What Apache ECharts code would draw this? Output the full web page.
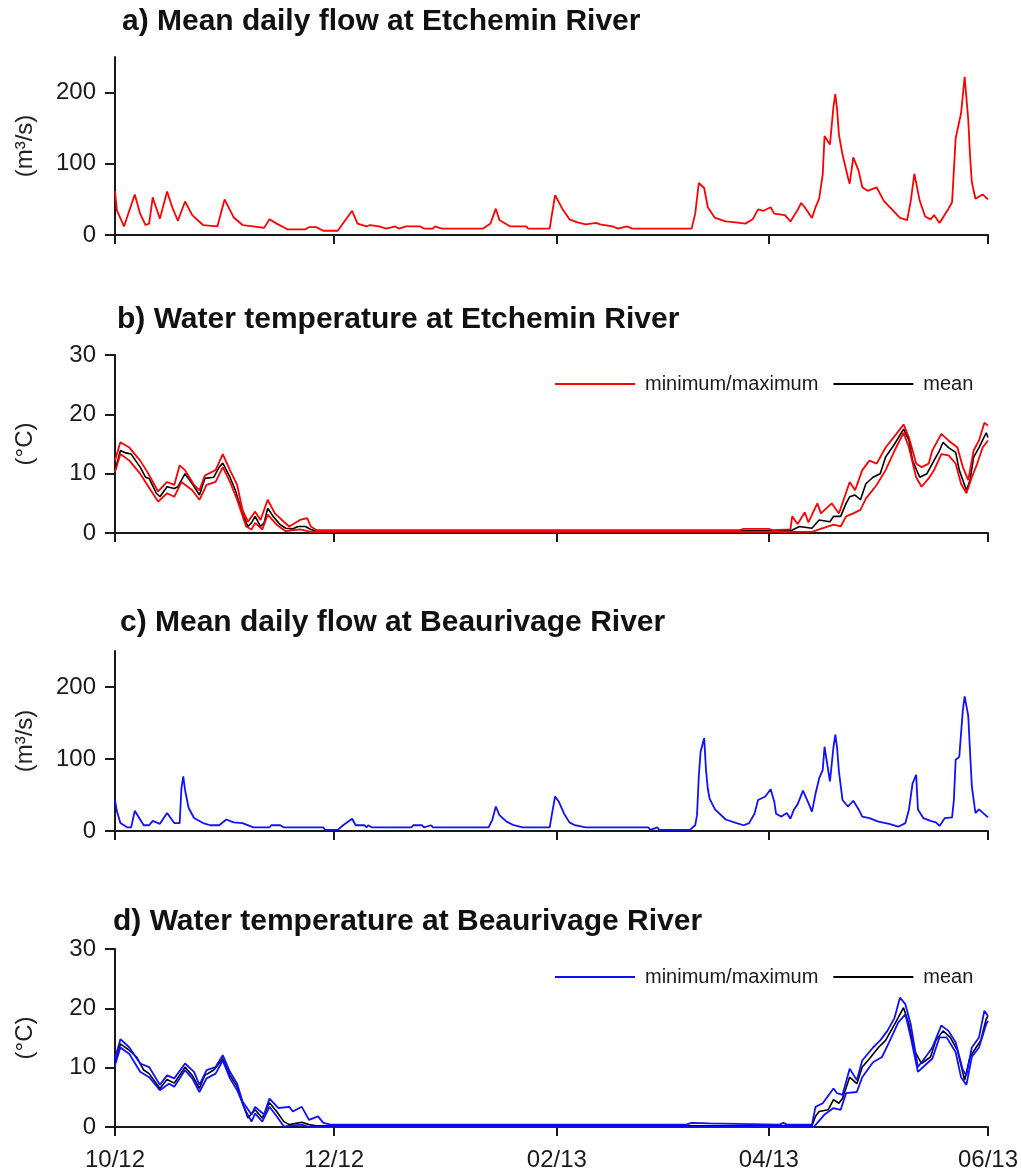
<!DOCTYPE html>
<html>
<head>
<meta charset="utf-8">
<script src="https://cdn.jsdelivr.net/npm/echarts@6/dist/echarts.min.js"></script>
<style>
  html, body { margin: 0; padding: 0; background: #fff; }
  #chart { width: 1021px; height: 1172px; }
</style>
</head>
<body>
<div id="chart"></div>
<script>
// Days are counted from 1 October 2012.
const tickDays = [0, 61, 123, 182, 243];
const tickLabels = ['10/12', '12/12', '02/13', '04/13', '06/13'];
const flowTicks = [0, 100, 200];
const tempTicks = [0, 10, 20, 30];

const panelTitles = [
  'a) Mean daily flow at Etchemin River',
  'b) Water temperature at Etchemin River',
  'c) Mean daily flow at Beaurivage River',
  'd) Water temperature at Beaurivage River'
];
const legendNames = ['minimum/maximum', 'mean'];

// Mean daily flow, Etchemin River (m3/s)
const etcheminFlow = [[0,62],[0.5,35],[2.5,12],[3,10],[5.5,57],[7,30],[8.5,14],[9.5,16],[10.5,53],[11,45],[12.5,23],[14.5,61],[16,38],[17.5,20],[19.5,47],[21.5,28],[24.5,14],[28.5,12],[29,12],[30.5,50],[33,25],[35.5,14],[38.5,12],[41.5,10],[43,22],[45,16],[48,8],[53,8],[54,11],[56,11],[58,6],[62,6],[66,34],[67.5,16],[70,12],[71,14],[73.5,12],[75.5,9],[78,12],[79,9],[81,12],[85,12],[86,9],[88.5,9],[89,12],[91,9],[102.5,9],[104.5,16],[106,37],[107,21],[110,12],[114.5,12],[115,9],[121,9],[121.5,25],[122.5,56],[124.5,37],[126.5,22],[128.5,18],[131,15],[134,17],[135,15],[138.5,12],[140,9],[142.5,12],[144,9],[160.5,9],[161.5,30],[162.5,73],[164,66],[165,39],[167,24],[170,19],[174,17],[175.5,16],[177.5,22],[179,36],[180.5,34],[182.5,39],[183.5,30],[186.5,28],[188,19],[190,35],[191,45],[192,39],[194,24],[195,39],[196,51],[197,85],[197.5,139],[199,127],[200,181],[200.5,198],[201,176],[201.5,141],[202.5,113],[204,81],[204.5,72],[205.5,109],[207,90],[208,67],[209.5,62],[212,67],[214,48],[218.5,24],[220.5,21],[221.5,48],[222.5,86],[224,48],[225.5,26],[227,22],[228,28],[229.5,17],[232,37],[233,46],[234,136],[235.5,171],[236.5,222],[237.5,162],[238,111],[238.5,74],[239.5,51],[241.5,57],[243,50]];

// Water temperature, Etchemin River (deg C)
const etcheminTempMax = [[0,12.2],[1.5,15.3],[4,14.4],[7,12.2],[9,10.3],[12,7],[14.5,8.6],[16.5,8.1],[18,11.4],[19.5,10.6],[22,8.1],[23.5,7.2],[25,9.7],[28,10.6],[30,13.3],[32,10.6],[34,8.1],[35.5,3.9],[37,1.9],[39,3.6],[40.5,2.2],[42.5,5.6],[44.5,3.3],[47,1.9],[48.5,1.1],[51.5,2.2],[53.5,2.5],[54.5,1.1],[56,0.5],[174,0.5],[175,0.7],[182,0.7],[183,0.5],[188,0.6],[188.5,2.8],[190,1.5],[192,3.5],[193,1.8],[195.5,5],[196.5,3.3],[199.5,5],[201.5,3.3],[204.5,8.6],[206,7.2],[208,10.6],[210,12.2],[212,11.7],[214.5,14.4],[217.5,16.7],[219.5,18.3],[221,16.1],[223,11.7],[224.5,11.1],[226.5,11.7],[227.5,13.9],[230,16.7],[232,15.6],[234.5,14.4],[236,11.1],[237.5,8.9],[239,13.9],[240.5,15.6],[242,18.6],[243,18.1]];
const etcheminTempMin = [[0,10.3],[1.5,13.3],[4,12.2],[7,10],[9,8.1],[12,5.3],[14.5,6.7],[16.5,6.1],[18.5,8.6],[21.5,7.2],[23.5,5.6],[25.5,8.1],[28,8.6],[30,11.1],[32,8.6],[34,5.6],[36.5,1.1],[38,0.6],[39,1.7],[41,0.6],[42.5,3.1],[45,1.4],[47.5,0.3],[51.5,0.6],[54.5,0.2],[194,0.2],[196,0.6],[200,1.4],[202,1.1],[203.5,2.8],[205.5,3.3],[207.5,3.9],[209,5.8],[212,8.1],[214.5,10.6],[217,13.9],[219.5,16.9],[221,14.4],[223,9.4],[224.5,7.8],[226.5,9.2],[228,10.6],[230,13.3],[232,13.1],[234,11.7],[235.5,8.3],[237,6.7],[238.5,9.4],[240,11.7],[241.5,14.4],[243,15.6]];
const etcheminTempMean = [[0,10.5],[1.5,13.9],[3,13.5],[4.5,13.3],[7,11.1],[8.5,9.4],[9.5,9.2],[11.5,6.7],[12.5,6.1],[14.5,7.8],[16.5,7.5],[17.5,7.8],[19.5,10],[21.5,8.3],[23.5,6.4],[25,9.2],[27.5,9.4],[29,11.1],[30,11.8],[32,9.4],[33.5,7.2],[35.5,3.3],[37,1.1],[38,1.7],[39,2.8],[40.5,1.1],[41.5,1.7],[42.5,4.2],[44,2.8],[46,1.4],[47.5,0.8],[49.5,0.7],[51,1.1],[53,1.1],[54.5,0.6],[56,0.35],[188,0.35],[190.5,1.1],[194,0.8],[196,2.2],[199,1.9],[200,2.8],[202,2.8],[203.5,5],[204.5,6.1],[206,6.4],[207.5,5.6],[209,8.3],[211,9.4],[213,10],[214.5,12.8],[217,15],[219.5,17.5],[221,15.6],[222,12.2],[224,9.4],[226,10],[227.5,11.7],[229.5,13.9],[230.5,15.3],[232,14.4],[234,13.6],[235,10.6],[237,7.2],[238,8.9],[239,12.8],[240.5,14.4],[242.5,16.9],[243,16.1]];

// Mean daily flow, Beaurivage River (m3/s)
const beaurivageFlow = [[0,43],[0.5,28],[1.5,11],[3.5,5],[4.5,5],[5.5,28],[8,8],[9.5,8],[10.5,14],[12.5,10],[14.5,25],[16.5,11],[18,11],[18.5,60],[19,76],[19.5,57],[20.5,32],[22,18],[24.5,11],[26.5,8],[29,8],[31,16],[33,12],[35.5,11],[38.5,5],[43,5],[43.5,8],[46,8],[47,5],[58,5],[58.5,1.5],[62,1.5],[63.5,8],[66,17],[67,8],[69.5,8],[70,5],[70.5,8],[71.5,5],[82.5,5],[83,8],[85.5,8],[86,5],[88,8],[88.5,5],[104,5],[105,15],[106,34],[107,22],[109,13],[111,8],[113.5,5],[121,5],[121.5,20],[122.5,48],[123.5,41],[125,24],[126.5,12],[128,8],[131,5],[148.5,5],[149,1.5],[151,5],[151.5,1.5],[160,1.5],[161.5,8],[162,22],[162.5,76],[163,110],[164,129],[164.5,85],[165,59],[165.5,45],[167,30],[170,16],[173,11],[175,8],[176.5,11],[178,24],[179,43],[181,48],[182.5,58],[183.5,41],[184,24],[185.5,20],[187,25],[188,17],[189,30],[190,37],[191.5,56],[193,39],[194,27],[195,52],[196,73],[197,85],[197.5,117],[198.5,85],[199,69],[200,117],[200.5,134],[201,115],[201.5,83],[202.5,43],[204,34],[205.5,42],[207,30],[208,20],[210,18],[212.5,13],[215.5,10],[218,6],[220,11],[221,30],[222,66],[223,78],[223.5,30],[225,18],[227,14],[228.5,12],[229.5,7],[231,18],[233,19],[233.5,43],[234,99],[235,103],[236,168],[236.5,187],[237.5,160],[238,110],[238.5,62],[239.5,25],[240.5,30],[243,19]];

// Water temperature, Beaurivage River (deg C)
const beaurivageTempMax = [[0,11.5],[1.5,14.8],[4,13.4],[7,10.7],[9.5,10.1],[12.5,7.1],[14.5,8.7],[16.5,8.2],[19.5,10.7],[22,9.3],[23.5,7.1],[25.5,9.6],[28,10.1],[30,12.1],[32,9.3],[34,7.3],[35.5,4.3],[38,2.1],[39,3.4],[41.5,2.1],[43,4.8],[45.5,3.2],[48.5,3.4],[49.5,2.6],[52,3.4],[54,1.2],[56.5,1.8],[58,0.7],[60,0.4],[69,0.4],[69.5,0.6],[70,0.4],[158,0.4],[158.5,0.7],[159,0.4],[160.5,0.7],[161,0.4],[165.5,0.6],[166,0.4],[185,0.4],[186,0.7],[187,0.4],[194,0.4],[195,3.4],[197,4],[200,6.5],[201,5.7],[202.5,5.4],[204.5,9.8],[206.5,7.9],[208,11.2],[211,13.4],[213,14.6],[215,16.2],[217,18.4],[218.5,21.8],[220,20.7],[221.5,17.3],[223.5,10.1],[226,12.1],[227.5,13.4],[230,17.1],[232,16.2],[234,14.3],[236,9.6],[237,8.7],[238.5,13.4],[240.5,15.1],[242,19.6],[243,18.7]];
const beaurivageTempMin = [[0,10.4],[1.5,13.4],[4,12.3],[7,9.3],[9.5,8.4],[12.5,6.2],[15,7.3],[16.5,6.8],[19.5,9.6],[21.5,8.2],[23.5,5.9],[25.5,8.2],[28,9],[30,11.2],[32,8.2],[34,6.2],[36.5,2.6],[38,0.9],[39,2.3],[41,0.9],[43,3.4],[45,1.8],[47,0.1],[52,0.4],[54,0],[194.5,0],[195.5,0.7],[197.5,2.1],[200,3.2],[202,2.9],[203.5,5.7],[206.5,5.9],[208,8.4],[211,10.9],[213.5,11.8],[215.5,14.3],[218,17.6],[220,19],[221.5,15.1],[223.5,9.3],[226,10.7],[227.5,11.5],[229.5,15.1],[231.5,15.1],[234,12.6],[235.5,8.4],[237,7.1],[238.5,11.8],[240.5,13.4],[242.5,17.3],[243,17.9]];
const beaurivageTempMean = [[0,10.7],[1.5,14],[4,12.9],[6,11.8],[8,9.6],[9.5,9],[12.5,6.5],[14.5,8],[16.5,7.4],[19.5,10.1],[21.5,8.7],[23.5,6.5],[25,8.7],[27.5,9.6],[30,11.5],[32,8.7],[34,6.8],[35.5,4],[37,1.5],[39,2.9],[41,1.5],[43,4.1],[45,2.6],[47,0.9],[48.5,0.4],[52,0.8],[54,0.4],[56,0.2],[194,0.2],[195,1.8],[196,2.6],[198.5,2.9],[200,4.6],[201.5,4],[202.5,4.8],[204.5,8.4],[206.5,7.3],[208,10.1],[210,11.5],[212.5,13.4],[214.5,14.6],[217,17.3],[219.5,20.1],[221,17.3],[222.5,12.9],[224.5,10.7],[227,11.8],[228.5,14.6],[230.5,16.2],[232.5,15.1],[234.5,12.9],[236.5,7.9],[238,11.8],[240,13.7],[241,14.6],[242.5,18.2],[243,18.7]];

const FONT = '"Liberation Sans", Arial, sans-serif';
const INK = '#1a1a1a';
const RED = '#ff0000';
const BLUE = '#1010ff';

const grids = [
  { left: 115, right: 33, top: 57, height: 178 },
  { left: 115, right: 33, top: 355, height: 178 },
  { left: 115, right: 33, top: 651, height: 180 },
  { left: 115, right: 33, top: 949, height: 178 }
];

function xAxisFor(i, showLabels) {
  return {
    type: 'value', gridIndex: i, min: tickDays[0], max: tickDays[tickDays.length - 1],
    splitLine: { show: false },
    axisLine: { show: true, onZero: false, lineStyle: { color: INK, width: 2 } },
    axisTick: { show: true, length: 9, customValues: tickDays, lineStyle: { color: INK, width: 2 } },
    axisLabel: {
      show: showLabels, customValues: tickDays, margin: 21,
      fontFamily: FONT, fontSize: 24, color: INK,
      formatter: v => tickLabels[tickDays.indexOf(v)]
    }
  };
}

function yAxisFor(i, isFlow) {
  const ticks = isFlow ? flowTicks : tempTicks;
  return {
    type: 'value', gridIndex: i, min: 0, max: isFlow ? 250 : 30,
    interval: isFlow ? 50 : 10,
    name: isFlow ? '(m³/s)' : '(°C)',
    nameLocation: 'middle', nameRotate: 90, nameGap: 78,
    nameTextStyle: { fontFamily: FONT, fontSize: 24, color: '#222' },
    splitLine: { show: false },
    axisLine: { show: true, lineStyle: { color: INK, width: 2 } },
    axisTick: { show: true, length: 10, customValues: ticks, lineStyle: { color: INK, width: 2 } },
    axisLabel: { customValues: ticks, margin: 19, fontFamily: FONT, fontSize: 24, color: INK }
  };
}

function lineSeries(name, data, color, i, width) {
  return {
    type: 'line', name, data, xAxisIndex: i, yAxisIndex: i,
    showSymbol: false, symbol: 'none', silent: true,
    lineStyle: { color, width: width || 1.8 },
    itemStyle: { color }
  };
}

function legendFor(top, names) {
  return {
    left: 550, top, orient: 'horizontal', selectedMode: false,
    icon: 'rect', itemWidth: 80, itemHeight: 2, itemGap: 15,
    data: names,
    formatter: n => n.startsWith('range') ? legendNames[0] : legendNames[1],
    textStyle: { fontFamily: FONT, fontSize: 20, color: INK, padding: [0, 0, 0, 5] }
  };
}

const titleY = [22, 320, 623, 922];
const titleX = [122, 117, 120, 113];

const option = {
  animation: false,
  backgroundColor: '#ffffff',
  grid: grids,
  xAxis: [xAxisFor(0, false), xAxisFor(1, false), xAxisFor(2, false), xAxisFor(3, true)],
  yAxis: [yAxisFor(0, true), yAxisFor(1, false), yAxisFor(2, true), yAxisFor(3, false)],
  legend: [legendFor(369, ['rangeB', 'meanB']), legendFor(962, ['rangeD', 'meanD'])],
  graphic: panelTitles.map((t, i) => ({
    type: 'text', x: titleX[i], y: titleY[i], silent: true,
    style: {
      text: t, fill: '#111', font: 'bold 30px ' + FONT,
      textAlign: 'left', textVerticalAlign: 'middle'
    }
  })),
  // the mean is drawn first so the min/max envelope sits on top of it
  series: [
    lineSeries('flowA', etcheminFlow, RED, 0),
    lineSeries('meanB', etcheminTempMean, '#000000', 1, 1.6),
    lineSeries('rangeB', etcheminTempMax, RED, 1),
    lineSeries('rangeB', etcheminTempMin, RED, 1),
    lineSeries('flowC', beaurivageFlow, BLUE, 2),
    lineSeries('meanD', beaurivageTempMean, '#000000', 3, 1.6),
    lineSeries('rangeD', beaurivageTempMax, BLUE, 3),
    lineSeries('rangeD', beaurivageTempMin, BLUE, 3)
  ]
};

const chart = echarts.init(document.getElementById('chart'));
chart.setOption(option);
</script>
</body>
</html>
